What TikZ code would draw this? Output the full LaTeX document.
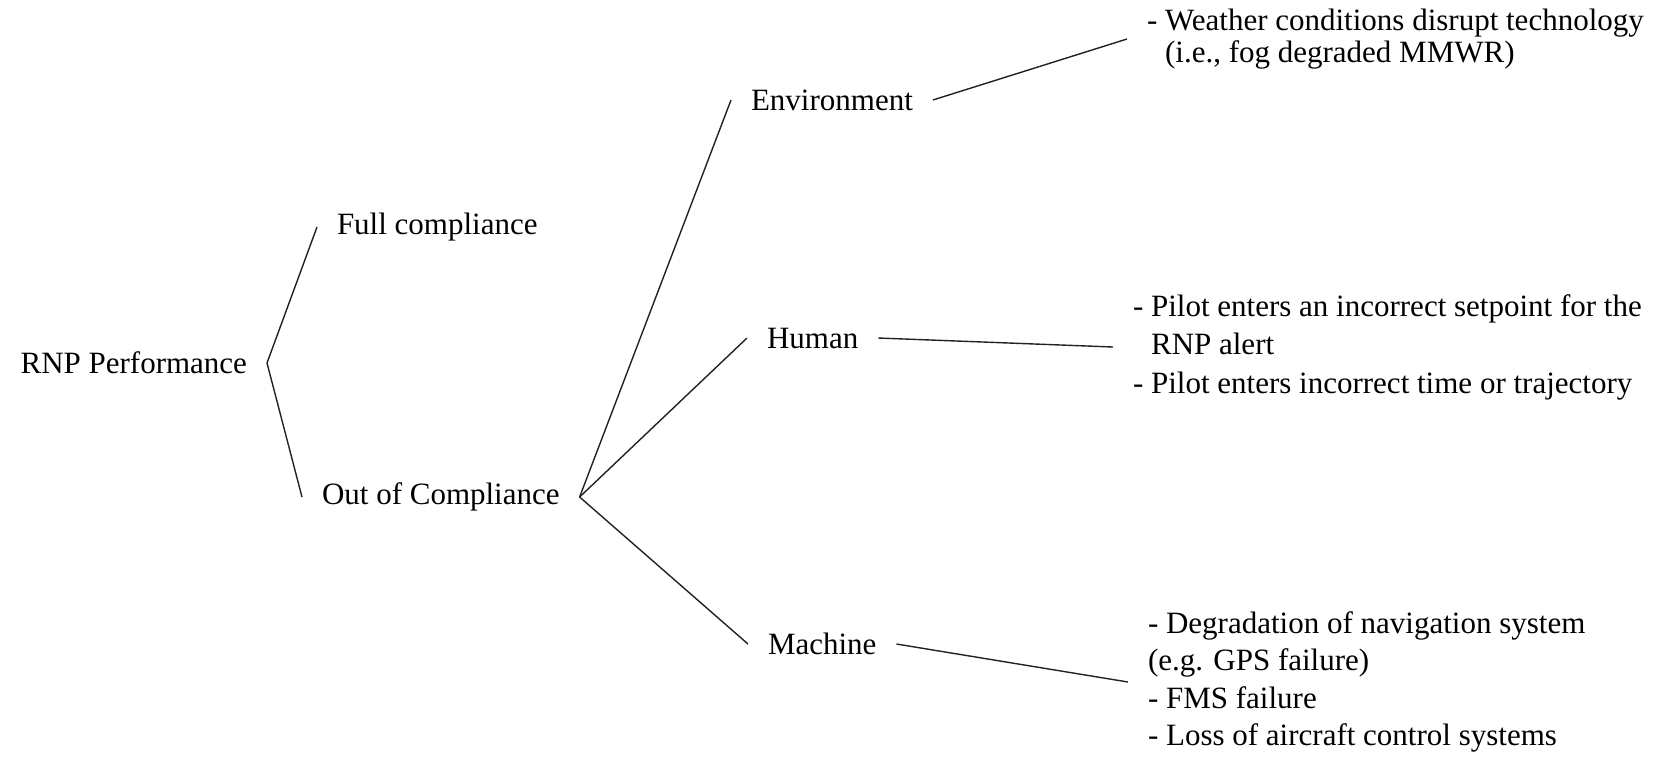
\documentclass[tikz,border=0pt]{standalone}
\usepackage{fontspec}
\setmainfont{Liberation Serif}
\usepackage{tikz}
\usepackage{xcolor}
\definecolor{Ink}{HTML}{222222}

\begin{document}
\begin{tikzpicture}[x=0.5pt,y=-0.5pt,
  lbl/.style={inner xsep=10pt,inner ysep=2pt,outer sep=0pt,font=\fontsize{15.5}{19}\selectfont},
  leaf/.style={lbl,align=left,anchor=west},
  branch/.style={Ink,line width=0.7pt}]
  \useasboundingbox (0,0) rectangle (1675,757);
  % first split
  \node[lbl,anchor=east] (rnp) at (267,363) {RNP Performance};
  \node[lbl,anchor=west] (full) at (317,227) {Full compliance};
  \node[lbl,anchor=west] (out) at (302,497) {Out of Compliance};
  \draw[branch] (full.west) -- (rnp.east) -- (out.west);
  % causes
  \node[lbl,anchor=west] (env) at (731,100) {Environment};
  \node[lbl,anchor=west] (human) at (747,338) {Human};
  \node[lbl,anchor=west] (machine) at (748,644) {Machine};
  \draw[branch] (out.east) -- (env.west);
  \draw[branch] (out.east) -- (human.west);
  \draw[branch] (out.east) -- (machine.west);
  % examples
  \node[leaf,font=\fontsize{15.5}{16}\selectfont] (envx) at (1127,39)
    {- Weather conditions disrupt technology\\\phantom{- }(i.e., fog degraded MMWR)};
  \node[leaf,font=\fontsize{15.5}{19.25}\selectfont] (humanx) at (1113,347)
    {- Pilot enters an incorrect setpoint for the\\\phantom{- }RNP alert\\- Pilot enters incorrect time or trajectory};
  \node[leaf,font=\fontsize{15.5}{18.7}\selectfont] (machinex) at (1128,682)
    {- Degradation of navigation system\\(e.g. GPS failure)\\- FMS failure\\- Loss of aircraft control systems};
  \draw[branch] (env.east) -- (envx.west);
  \draw[branch] (human.east) -- (humanx.west);
  \draw[branch] (machine.east) -- (machinex.west);
\end{tikzpicture}
\end{document}
